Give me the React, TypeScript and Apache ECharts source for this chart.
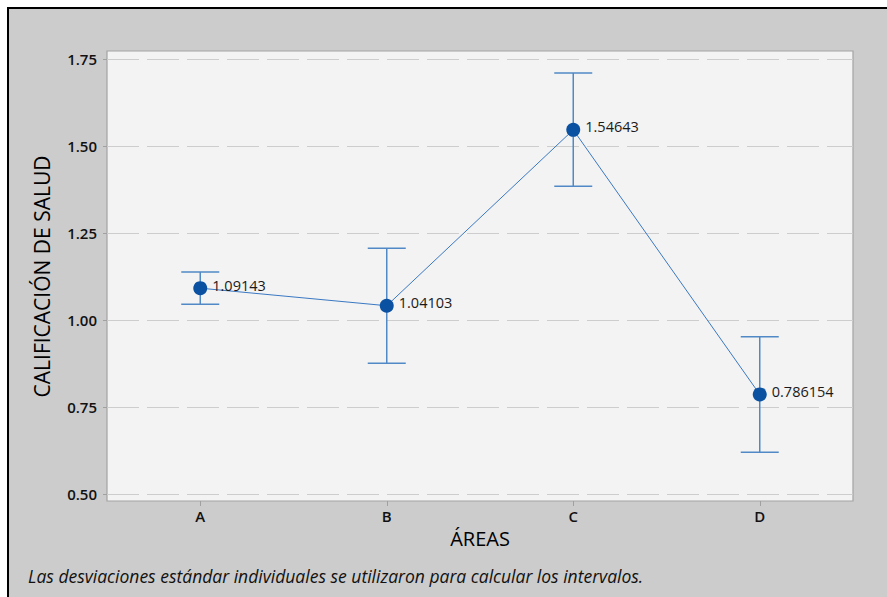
import React, { useEffect, useRef } from "react";
import * as echarts from "echarts";

const categories = ["A", "B", "C", "D"];
const means = [1.09143, 1.04103, 1.54643, 0.786154];
const lower = [1.045, 0.876, 1.384, 0.62];
const upper = [1.138, 1.206, 1.71, 0.952];
const yMin = 0.5;
const yMax = 1.75;
const yInterval = 0.25;
const yTitle = "CALIFICACIÓN DE SALUD";
const xTitle = "ÁREAS";
const footnote = "Las desviaciones estándar individuales se utilizaron para calcular los intervalos.";

const FONT = "'Open Sans', 'Noto Sans', sans-serif";

export default function App() {
  const ref = useRef<HTMLDivElement>(null);
  useEffect(() => {
    if (!ref.current) return;
    const chart = echarts.init(ref.current, null, { renderer: "svg" });
    const errData = categories.map((c, i) => [i, lower[i], upper[i]]);
    chart.setOption({
      animation: false,
      backgroundColor: "#ffffff",
      textStyle: { fontFamily: FONT },
      title: {
        text: footnote,
        left: 23,
        top: 562,
        textStyle: { fontFamily: FONT, fontSize: 17.5, fontStyle: "italic", fontWeight: "normal", color: "#111" },
      },
      graphic: [
        { type: "rect", z: -20, shape: { x: 8, y: 8, width: 900, height: 620 }, style: { fill: "#cccccc", stroke: "#000000", lineWidth: 2 } },
        { type: "rect", z: -10, shape: { x: 107, y: 51, width: 746, height: 450 }, style: { fill: "#f3f3f3", stroke: "#a3a3a3", lineWidth: 1.2 } },
      ],
      grid: { left: 107, right: 34, top: 59, bottom: 103 },
      xAxis: {
        type: "category",
        data: categories,
        offset: 7,
        name: xTitle,
        nameLocation: "middle",
        nameGap: 27,
        nameTextStyle: { fontSize: 20, color: "#000", fontFamily: FONT },
        axisLine: { show: false },
        axisTick: { show: true, alignWithLabel: true, length: 5, lineStyle: { color: "#a0a0a0" } },
        axisLabel: { fontSize: 15, fontWeight: 600, color: "#111", margin: 7 },
      },
      yAxis: {
        type: "value",
        min: yMin,
        max: yMax,
        interval: yInterval,
        name: yTitle,
        nameLocation: "middle",
        nameRotate: 90,
        nameGap: 55,
        nameTextStyle: { fontSize: 21, color: "#000", fontFamily: FONT },
        axisLine: { show: false },
        axisTick: { show: true, length: 4, lineStyle: { color: "#a0a0a0" } },
        axisLabel: { fontSize: 15, fontWeight: 600, color: "#111", margin: 10, formatter: (v: number) => v.toFixed(2) },
        splitLine: { show: true, lineStyle: { color: "#cdcdcd", width: 1, type: [32, 8] } },
      },
      series: [
        {
          type: "custom",
          z: 2,
          data: errData,
          renderItem: (params: any, api: any) => {
            const idx = api.value(0);
            const lo = api.coord([idx, api.value(1)]);
            const hi = api.coord([idx, api.value(2)]);
            const hw = 19;
            const style = { stroke: "#5089c6", lineWidth: 1.5 };
            return {
              type: "group",
              children: [
                { type: "line", shape: { x1: hi[0], y1: hi[1], x2: lo[0], y2: lo[1] }, style },
                { type: "line", shape: { x1: hi[0] - hw, y1: hi[1], x2: hi[0] + hw, y2: hi[1] }, style },
                { type: "line", shape: { x1: lo[0] - hw, y1: lo[1], x2: lo[0] + hw, y2: lo[1] }, style },
              ],
            };
          },
        },
        {
          type: "line",
          z: 3,
          data: means,
          symbol: "circle",
          symbolSize: 14,
          itemStyle: { color: "#0a51a2" },
          lineStyle: { color: "#3a78c2", width: 1 },
          label: {
            show: true,
            position: "right",
            distance: 5,
            offset: [0, -3],
            fontSize: 14.5,
            color: "#1a1a1a",
            fontFamily: FONT,
            formatter: (p: any) => String(p.value),
          },
        },
      ],
    });
    return () => chart.dispose();
  }, []);
  return <div ref={ref} style={{ position: "fixed", left: 0, top: 0, width: 887, height: 597 }} />;
}
